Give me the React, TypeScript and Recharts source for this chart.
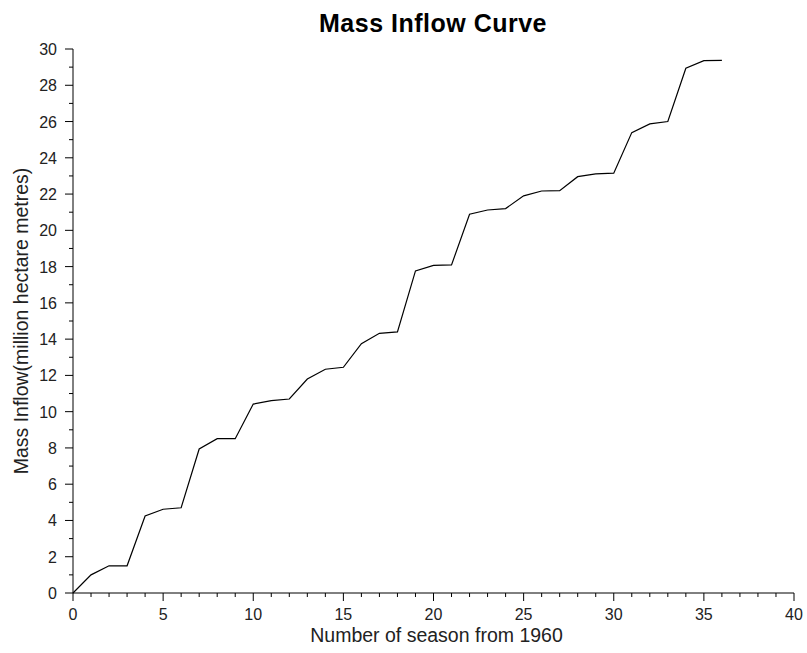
import React from "react";
import { LineChart, Line, XAxis, YAxis } from "recharts";

const seasons: number[] = [
  0, 1, 2, 3, 4, 5, 6, 7, 8, 9, 10, 11, 12, 13, 14, 15, 16, 17, 18, 19, 20,
  21, 22, 23, 24, 25, 26, 27, 28, 29, 30, 31, 32, 33, 34, 35, 36,
];
const massInflow: number[] = [
  0, 1.0, 1.5, 1.5, 4.25, 4.62, 4.7, 7.94, 8.51, 8.51, 10.42, 10.61, 10.7,
  11.8, 12.34, 12.45, 13.75, 14.32, 14.4, 17.76, 18.07, 18.09, 20.89, 21.12,
  21.2, 21.9, 22.17, 22.19, 22.96, 23.11, 23.15, 25.39, 25.87, 26.0, 28.94,
  29.36, 29.37,
];
const xTicks: number[] = Array.from({ length: 41 }, (_, i) => i);
const yTicks: number[] = Array.from({ length: 31 }, (_, i) => i);

const title = "Mass Inflow Curve";
const xLabel = "Number of season from 1960";
const yLabel = "Mass Inflow(million hectare metres)";

const data = seasons.map((s, i) => ({ season: s, inflow: massInflow[i] }));

const FONT = "'Liberation Sans', Arial, Helvetica, sans-serif";

const XTick = (props: any) => {
  const { x, y, payload } = props;
  const v = payload.value as number;
  const major = v % 5 === 0;
  return (
    <g>
      <line x1={x} y1={y} x2={x} y2={y + (major ? 8 : 4)} stroke="#000" strokeWidth={1} />
      {major && (
        <text x={x} y={y + 27} textAnchor="middle" fontSize={16} fontFamily={FONT} fill="#222">
          {v}
        </text>
      )}
    </g>
  );
};

const YTick = (props: any) => {
  const { x, y, payload } = props;
  const v = payload.value as number;
  const major = v % 2 === 0;
  return (
    <g>
      <line x1={x} y1={y} x2={x - (major ? 8 : 4)} y2={y} stroke="#000" strokeWidth={1} />
      {major && (
        <text x={x - 16} y={y + 6} textAnchor="end" fontSize={16} fontFamily={FONT} fill="#222">
          {v}
        </text>
      )}
    </g>
  );
};

const XLabel = (props: any) => {
  const vb = props.viewBox || {};
  return (
    <text
      x={vb.x + vb.width / 2 + 3}
      y={vb.y + 49}
      textAnchor="middle"
      fontSize={19.5}
      fontFamily={FONT}
      fill="#222"
    >
      {xLabel}
    </text>
  );
};

const YLabel = (props: any) => {
  const vb = props.viewBox || {};
  const cx = vb.x + 28;
  const cy = vb.y + vb.height / 2;
  return (
    <text
      x={cx}
      y={cy}
      transform={`rotate(-90, ${cx}, ${cy})`}
      textAnchor="middle"
      fontSize={19.5}
      fontFamily={FONT}
      fill="#222"
    >
      {yLabel}
    </text>
  );
};

export default function App() {
  return (
    <div style={{ position: "absolute", left: 0, top: 0, width: 807, height: 653, background: "#fff" }}>
      <svg
        width={807}
        height={60}
        style={{ position: "absolute", left: 0, top: 0, zIndex: 2, pointerEvents: "none" }}
      >
        <text
          x={433}
          y={32}
          textAnchor="middle"
          fontSize={25}
          fontWeight="bold"
          letterSpacing={0.5}
          fontFamily={FONT}
          fill="#000"
        >
          {title}
        </text>
      </svg>
      <LineChart
        width={807}
        height={653}
        data={data}
        margin={{ top: 49, right: 13, bottom: 0, left: 0 }}
      >
        <XAxis
          dataKey="season"
          type="number"
          domain={[0, 40]}
          ticks={xTicks}
          interval={0}
          height={60}
          tickSize={0}
          tickMargin={0}
          tickLine={false}
          axisLine={{ stroke: "#000", strokeWidth: 1 }}
          tick={<XTick />}
          label={{ content: <XLabel /> }}
        />
        <YAxis
          type="number"
          domain={[0, 30]}
          ticks={yTicks}
          interval={0}
          width={73}
          tickSize={0}
          tickMargin={0}
          tickLine={false}
          axisLine={{ stroke: "#000", strokeWidth: 1 }}
          tick={<YTick />}
          label={{ content: <YLabel /> }}
        />
        <Line
          type="linear"
          dataKey="inflow"
          stroke="#000"
          strokeWidth={1.2}
          dot={false}
          activeDot={false}
          isAnimationActive={false}
        />
      </LineChart>
    </div>
  );
}
